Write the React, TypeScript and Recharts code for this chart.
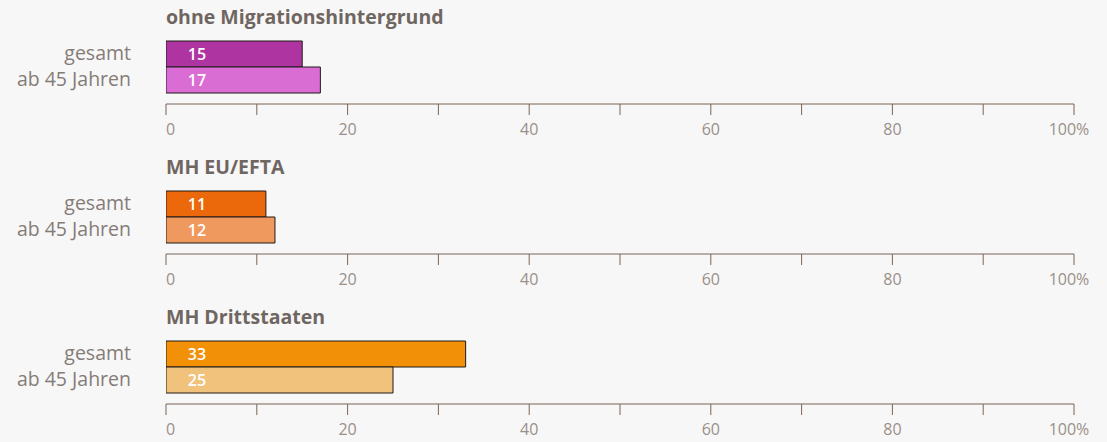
import React from "react";
import { BarChart, Bar, XAxis, YAxis, Cell, LabelList } from "recharts";

const categories = ["gesamt", "ab 45 Jahren"];
const panelTitles = ["ohne Migrationshintergrund", "MH EU/EFTA", "MH Drittstaaten"];
const valuesOhne = [15, 17];
const valuesEU = [11, 12];
const valuesDritt = [33, 25];
const panelValues = [valuesOhne, valuesEU, valuesDritt];
const panelColors = [
  ["#ae34a1", "#da6dd4"],
  ["#ec690b", "#f0995e"],
  ["#f29108", "#f1c27b"],
];
const xTicks = [0, 10, 20, 30, 40, 50, 60, 70, 80, 90, 100];
const xTickLabels: Record<number, string> = { 0: "0", 20: "20", 40: "40", 60: "60", 80: "80", 100: "100%" };

const FONT = "'Open Sans', 'Noto Sans', sans-serif";
const AXIS_COLOR = "#7b6556";
const W = 1107;
const H = 150;

const XTick = (props: any) => {
  const { x, y, payload } = props;
  const label = xTickLabels[payload.value];
  if (label === undefined) return null;
  let anchor: "start" | "middle" | "end" = "middle";
  let dx = 0;
  if (payload.value === 0) { anchor = "start"; dx = 0; }
  if (payload.value === 100) { anchor = "middle"; dx = -5; }
  return (
    <text x={x + dx} y={y} dy={16} textAnchor={anchor} fill="#9a908a" fontSize={16} fontFamily={FONT}>
      {label}
    </text>
  );
};

const YTick = (props: any) => {
  const { x, y, payload } = props;
  return (
    <text x={x} y={y} dy={6} textAnchor="end" fill="#857c77" fontSize={19.5} fontFamily={FONT} fontWeight={400}>
      {payload.value}
    </text>
  );
};

const BarValue = (props: any) => {
  const { x, y, height, value } = props;
  return (
    <text x={x + 31} y={y + height / 2} dy={5.5} textAnchor="middle" fill="#ffffff" fontSize={16} fontWeight={600} fontFamily={FONT}>
      {value}
    </text>
  );
};

function Panel({ index }: { index: number }) {
  const data = categories.map((c, i) => ({ name: c, value: panelValues[index][i] }));
  const colors = panelColors[index];
  return (
    <div style={{ position: "absolute", left: 0, top: index * 150, width: W, height: H }}>
      <div
        style={{
          position: "absolute",
          left: 166,
          top: 4,
          fontFamily: FONT,
          fontWeight: 700,
          fontSize: 19.5,
          color: "#6f6661",
          lineHeight: "26px",
          whiteSpace: "nowrap",
        }}
      >
        {panelTitles[index]}
      </div>
      <BarChart
        width={W}
        height={H}
        data={data}
        layout="vertical"
        margin={{ top: 41, right: 33, bottom: 6, left: 0 }}
        barCategoryGap={0}
      >
        <XAxis
          type="number"
          domain={[0, 100]}
          ticks={xTicks}
          interval={0}
          height={40}
          stroke={AXIS_COLOR}
          tickSize={11}
          tickMargin={4}
          tick={<XTick />}
          allowDataOverflow
        />
        <YAxis
          type="category"
          dataKey="name"
          width={166}
          axisLine={false}
          tickLine={false}
          tickSize={0}
          tickMargin={35}
          padding={{ top: 0, bottom: 11 }}
          tick={<YTick />}
        />
        <Bar dataKey="value" stroke="#1e1a18" strokeWidth={1} isAnimationActive={false}>
          {data.map((d, i) => (
            <Cell key={d.name} fill={colors[i]} />
          ))}
          <LabelList dataKey="value" content={<BarValue />} />
        </Bar>
      </BarChart>
    </div>
  );
}

export default function App() {
  return (
    <div style={{ position: "fixed", left: 0, top: 0, width: W, height: 442, background: "#f7f7f7", overflow: "hidden" }}>
      {[0, 1, 2].map((i) => (
        <Panel key={i} index={i} />
      ))}
    </div>
  );
}
